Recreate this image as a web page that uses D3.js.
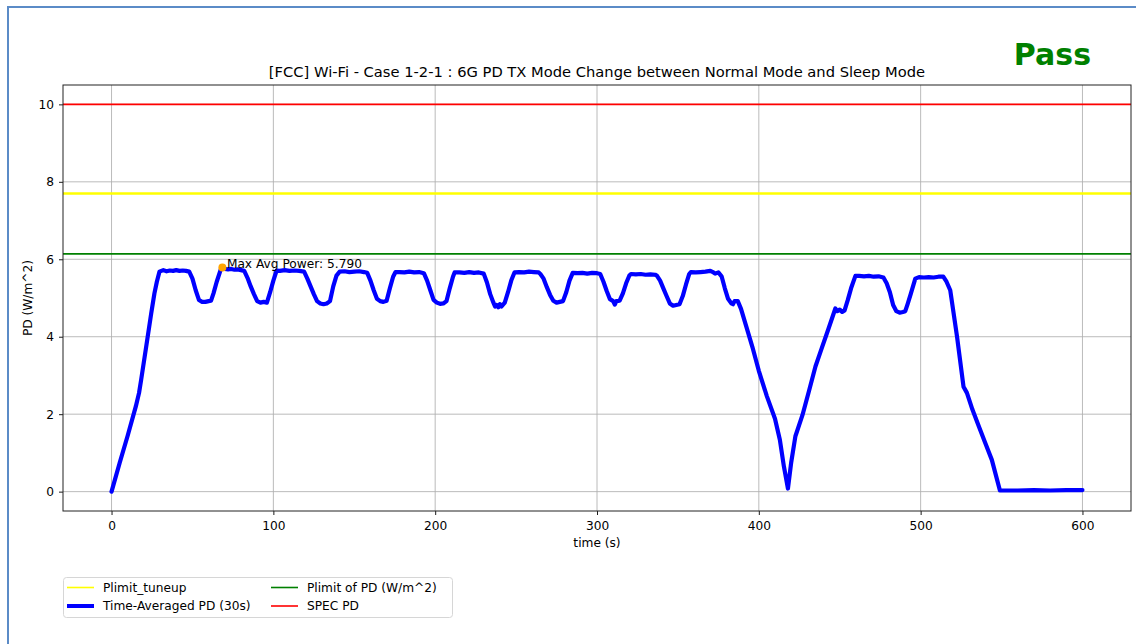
<!DOCTYPE html>
<html><head><meta charset="utf-8">
<script src="https://cdn.jsdelivr.net/npm/d3@7"></script>
<style>
html,body{margin:0;padding:0;background:#fff;}
svg{display:block;font-family:"DejaVu Sans",sans-serif;}
</style></head>
<body><svg id="c" width="1136" height="644"></svg>
<script>
// ---- data ----
const timeS = [0,5,10,15,17,18.3,21.4,24.5,26.5,28,29.6,
 32,34,36,38,40,42,44,46,48,50,52,54,56,58,60,61.5,63,65,67.5,68.5,70,72,74,76,78,80,
 82,84,86,88,90,92,94,96,98,100,102,104,107,110,113,116,119,
 121,123,125,127,129,131,133,135,137,139,141,144,147,150,153,156,158,
 160,162,164,166,168,170,172,174,175.5,178,181,184,187,190,193,
 195,197,199,201,203,205,207,209,211,212,215,218,221,224,227,230,
 232,234,236,237,238,239,240,241,243,245,247,249,252,255,258,261,264,
 265,267,269,271,273,275,277,279,281,283,285,288,291,294,297,300,302,
 304,306,308,310,311,312,314,316,318,320,321,324,327,330,333,336,337,
 339,341,343,345,347,349,351,353,355,357,358,361,364,367,370,372,373,
 375,377,379,381,383,384,385,387,389,392,396,400,405,410,413,415.5,418,420,422.6,
 427,431,435,439,443,447.3,448.5,450,451.5,453,455,457,459.7,
 462,465,468,471,474,477,479,481,483,485,487,489,490.5,492,494,496.7,
 499,502,505,508,511,514,516,518.3,522.5,526.5,528.6,532,536,540,544,549,
 555,560,570,580,590,600];
const pdValues = [0,0.74,1.45,2.2,2.55,2.89,3.74,4.6,5.12,5.42,5.68,
 5.72,5.69,5.71,5.70,5.72,5.70,5.71,5.70,5.68,5.50,5.20,4.95,4.90,4.90,4.92,4.93,5.12,5.42,5.74,5.79,5.75,5.74,5.75,5.73,5.74,5.72,
 5.70,5.52,5.30,5.10,4.92,4.88,4.90,4.88,5.15,5.45,5.71,5.70,5.72,5.70,5.71,5.70,5.68,
 5.50,5.30,5.10,4.92,4.86,4.84,4.86,4.92,5.30,5.58,5.68,5.69,5.67,5.68,5.69,5.67,5.65,
 5.45,5.20,4.98,4.92,4.90,4.93,5.25,5.55,5.67,5.67,5.66,5.68,5.66,5.67,5.64,
 5.45,5.20,4.95,4.88,4.85,4.86,4.92,5.25,5.55,5.66,5.66,5.65,5.67,5.65,5.66,5.63,
 5.40,5.10,4.88,4.78,4.82,4.76,4.84,4.78,4.88,5.15,5.45,5.66,5.67,5.66,5.68,5.67,5.66,
 5.62,5.50,5.28,5.08,4.93,4.88,4.90,4.92,5.15,5.45,5.65,5.64,5.65,5.63,5.65,5.64,5.62,
 5.42,5.18,4.97,4.92,4.83,4.92,4.93,5.12,5.38,5.58,5.62,5.61,5.62,5.60,5.61,5.60,5.58,
 5.45,5.25,5.05,4.86,4.80,4.82,4.84,5.05,5.35,5.62,5.67,5.66,5.67,5.68,5.70,5.66,5.63,
 5.66,5.56,5.25,4.98,4.86,4.84,4.92,4.92,4.72,4.30,3.74,3.12,2.46,1.88,1.34,0.65,0.08,0.75,1.43,
 1.98,2.60,3.23,3.72,4.20,4.73,4.66,4.70,4.64,4.68,4.95,5.25,5.57,
 5.57,5.56,5.57,5.55,5.56,5.53,5.38,5.15,4.82,4.66,4.62,4.64,4.66,4.85,5.12,5.50,
 5.54,5.53,5.54,5.53,5.55,5.55,5.42,5.20,4.00,2.71,2.55,2.12,1.68,1.25,0.82,0.03,
 0.03,0.03,0.04,0.03,0.04,0.04];
const xTicks = [0,100,200,300,400,500,600];
const yTicks = [0,2,4,6,8,10];
const refNames = ["Plimit_tuneup","Plimit of PD (W/m^2)","SPEC PD"];
const refValues = [7.70,6.14,10];
const maxPoint = {t:68.5, v:5.79, label:"Max Avg Power: 5.790"};
const titleText = "[FCC] Wi-Fi - Case 1-2-1 : 6G PD TX Mode Change between Normal Mode and Sleep Mode";
const verdict = "Pass";

// ---- layout ----
const FS = 12.2;
const svg = d3.select("#c");
const L=63, R=1131, T=85, B=511;
const x = d3.scaleLinear().domain([-30,630]).range([L,R]);
const y = d3.scaleLinear().domain([-0.5,10.5]).range([B,T]);

// outer frame
svg.append("rect").attr("x",8).attr("y",7).attr("width",1140).attr("height",650)
  .attr("fill","none").attr("stroke","#5b8bc7").attr("stroke-width",2);

// grid
const g = svg.append("g");
g.selectAll(".gx").data(xTicks).join("line")
  .attr("x1",d=>x(d)).attr("x2",d=>x(d)).attr("y1",T).attr("y2",B)
  .attr("stroke","#b0b0b0").attr("stroke-width",1).attr("opacity",0.85);
g.selectAll(".gy").data(yTicks).join("line")
  .attr("y1",d=>y(d)).attr("y2",d=>y(d)).attr("x1",L).attr("x2",R)
  .attr("stroke","#b0b0b0").attr("stroke-width",1).attr("opacity",0.85);

// reference lines
const refColors = ["#ffff00","#008000","#ff0000"];
const refWidths = [2.5,1.6,1.6];
refValues.forEach((v,i)=>{
  svg.append("line").attr("x1",L).attr("x2",R).attr("y1",y(v)).attr("y2",y(v))
    .attr("stroke",refColors[i]).attr("stroke-width",refWidths[i]);
});

// data line
const pts = timeS.map((t,i)=>[t,pdValues[i]]);
svg.append("path").datum(pts)
  .attr("d", d3.line().x(d=>x(d[0])).y(d=>y(d[1])))
  .attr("fill","none").attr("stroke","#0000ff").attr("stroke-width",4.2)
  .attr("stroke-linejoin","round").attr("stroke-linecap","round");

// max point
svg.append("circle").attr("cx",x(maxPoint.t)).attr("cy",y(maxPoint.v)).attr("r",4).attr("fill","#ffa500");
svg.append("text").attr("x",x(maxPoint.t)+4.5).attr("y",y(maxPoint.v)+0.5)
  .attr("font-size",FS).attr("fill","#000").text(maxPoint.label);

// axes
const xAxis = d3.axisBottom(x).tickValues(xTicks).tickSize(4).tickPadding(6).tickFormat(d3.format("d"));
const yAxis = d3.axisLeft(y).tickValues(yTicks).tickSize(4).tickPadding(5).tickFormat(d3.format("d"));
const ax = svg.append("g").attr("transform",`translate(0,${B})`).call(xAxis);
const ay = svg.append("g").attr("transform",`translate(${L},0)`).call(yAxis);
[ax,ay].forEach(a=>{
  a.select(".domain").remove();
  a.selectAll("text").attr("font-size",FS).attr("font-family","DejaVu Sans").attr("fill","#000");
  a.selectAll("line").attr("stroke","#000").attr("stroke-width",0.9);
});
// spines
svg.append("rect").attr("x",L).attr("y",T).attr("width",R-L).attr("height",B-T)
  .attr("fill","none").attr("stroke","#222").attr("stroke-width",1);

// labels
svg.append("text").attr("x",(L+R)/2).attr("y",77).attr("text-anchor","middle")
  .attr("font-size",14.7).attr("fill","#000").text(titleText);
svg.append("text").attr("x",(L+R)/2).attr("y",547).attr("text-anchor","middle")
  .attr("font-size",FS).attr("fill","#000").text("time (s)");
svg.append("text").attr("transform",`translate(32,${(T+B)/2}) rotate(-90)`).attr("text-anchor","middle")
  .attr("font-size",FS).attr("fill","#000").text("PD (W/m^2)");
svg.append("text").attr("x",1091).attr("y",65).attr("text-anchor","end")
  .attr("font-size",30).attr("font-weight","bold").attr("fill","#008000").text(verdict);

// legend
const lg = svg.append("g");
lg.append("rect").attr("x",63.5).attr("y",577.5).attr("width",389).attr("height",40).attr("rx",3)
  .attr("fill","#fff").attr("fill-opacity",0.8).attr("stroke","#d6d6d6").attr("stroke-width",1);
const legendItems = [
  {name:refNames[0], color:"#ffff00", w:1.6, cx:67, cy:587.5},
  {name:"Time-Averaged PD (30s)", color:"#0000ff", w:4, cx:67, cy:606},
  {name:refNames[1], color:"#008000", w:1.6, cx:271, cy:587.5},
  {name:refNames[2], color:"#ff0000", w:1.6, cx:271, cy:606}
];
legendItems.forEach(it=>{
  lg.append("line").attr("x1",it.cx).attr("x2",it.cx+27).attr("y1",it.cy).attr("y2",it.cy)
    .attr("stroke",it.color).attr("stroke-width",it.w);
  lg.append("text").attr("x",it.cx+36).attr("y",it.cy+4.3).attr("font-size",FS).attr("fill","#000").text(it.name);
});
</script></body></html>
